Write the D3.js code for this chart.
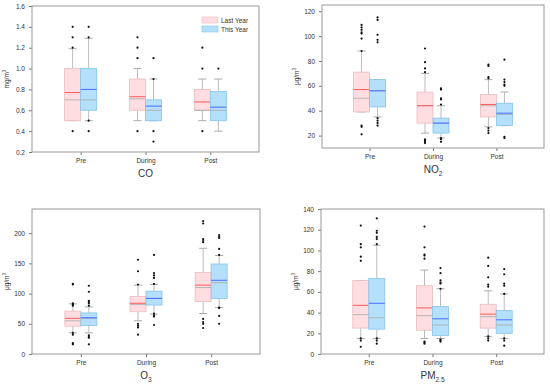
<!DOCTYPE html>
<html>
<head>
<meta charset="utf-8">
<script src="https://cdn.jsdelivr.net/npm/d3@7"></script>
<style>
body{margin:0;background:#fff;}
text{font-family:"Liberation Sans",Arial,sans-serif;fill:#333;}
</style>
</head>
<body>
<svg width="550" height="385"></svg>
<script>
var periods = ["Pre","During","Post"];
var seriesNames = ["Last Year","This Year"];

// [q1, q3, mean, median, whiskerLow, whiskerHigh, outliers]
var coLast = [
 [0.5,1.0,0.77,0.70,0.5,1.19,[1.4,1.3,1.2,0.4]],
 [0.6,0.9,0.73,0.71,0.5,1.0,[1.3,1.2,1.1,0.4]],
 [0.6,0.8,0.68,0.60,0.5,0.9,[1.2,1.0,0.4]]
];
var coThis = [
 [0.6,1.0,0.80,0.70,0.5,1.29,[1.4,1.3,0.5,0.4]],
 [0.5,0.7,0.64,0.60,0.5,0.9,[1.1,0.9,0.4,0.3]],
 [0.5,0.78,0.63,0.60,0.4,0.9,[1.0]]
];
var no2Last = [
 [39,71,57,50,39,88,[109,107,105,103,102,98,88,28,27,21]],
 [30,55,44,44,22,70,[90,79,74,71,17,16,15,14]],
 [35,53,45,44,27,65,[77,76,67,66,26,24,22]]
];
var no2This = [
 [43,65,56,56,35,65,[115,113,101,97,95,34,32,30,28]],
 [22,34,30,30,18,44,[58,57,50,49,45,18,17,15]],
 [28,46,38,37,28,55,[81,65,63,61,60,19,18]]
];
var o3Last = [
 [46,71,59,55,35,83,[116,115,84,82,80,35,32,18,16]],
 [70,95,84,82,55,114,[156,137,115,50,47,44,32]],
 [87,135,114,110,67,175,[220,216,190,187,185,58,53,50,43]]
];
var o3This = [
 [47,68,60,59,35,78,[113,103,88,86,84,80,31,28,27,16]],
 [81,104,92,92,66,115,[164,134,130,126,116,67,64,62,48]],
 [92,149,122,118,77,163,[197,194,192,174,164,77,76,63,50]]
];
var pmLast = [
 [25,71,47,38,15,71,[124,106,103,94,90,15,13,7]],
 [23,66,44.5,37,15,81,[123,103,96,95,92,12,11,10]],
 [25,48,38.5,36,17,61,[93,85,74,67,65,17,15,13]]
];
var pmThis = [
 [24,73,49,35,15,105,[131,119,117,113,111,106,15,13,10]],
 [18,46,34,28,15,63,[83,78,71,69,68,63,14,13,12]],
 [20,42,33,28,15,58,[82,77,68,66,58,15,13,8]]
];

var panels = [
 {title:["CO",""], unit:"mg/m", domain:[0.2,1.6], ticks:d3.range(0.2,1.61,0.2), fmt:d3.format(".1f"),
  last:coLast, cur:coThis, x:32, y:6, w:227, h:146, legend:true},
 {title:["NO","2"], unit:"μg/m", domain:[10,125], ticks:[20,40,60,80,100,120], fmt:d3.format("d"),
  last:no2Last, cur:no2This, x:322, y:5, w:222, h:143},
 {title:["O","3"], unit:"μg/m", domain:[0,240], ticks:[0,50,100,150,200], fmt:d3.format("d"),
  last:o3Last, cur:o3This, x:32, y:209, w:228, h:145},
 {title:["PM","2.5"], unit:"μg/m", domain:[0,140], ticks:d3.range(0,141,20), fmt:d3.format("d"),
  last:pmLast, cur:pmThis, x:321, y:209, w:223, h:145}
];

var colors = {
 fill:["#ffdde0","#b5e0fb"],
 stroke:["#e9bcc0","#86c4ea"],
 mean:["#ff5a5a","#4b6bff"]
};

var svg = d3.select("svg");

panels.forEach(function(p){
 var g = svg.append("g").attr("transform","translate("+p.x+","+p.y+")");
 var y = d3.scaleLinear().domain(p.domain).range([p.h,0]);
 var x = d3.scalePoint().domain(periods).range([0,p.w]).padding(0.75);
 var bw = 16;

 // left axis
 var ya = g.append("g").call(d3.axisLeft(y).tickValues(p.ticks).tickFormat(p.fmt).tickSize(3));
 ya.select(".domain").remove();
 ya.selectAll("line").attr("stroke","#777");
 ya.selectAll("text").attr("font-size",6.5).attr("fill","#444").attr("dx",-1);

 var xa = g.append("g").attr("transform","translate(0,"+p.h+")")
  .call(d3.axisBottom(x).tickSize(3));
 xa.select(".domain").remove();
 xa.selectAll("line").attr("stroke","#777");
 xa.selectAll("text").attr("font-size",6.5).attr("fill","#333").attr("dy",5);

 // frame
 g.append("rect").attr("width",p.w).attr("height",p.h)
  .attr("fill","none").attr("stroke","#999").attr("stroke-width",1);

 [p.last,p.cur].forEach(function(series,si){
  series.forEach(function(d,i){
   var cx = x(periods[i]) + (si===0 ? -bw/2 : bw/2);
   var b = g.append("g");
   // whiskers
   b.append("line").attr("x1",cx).attr("x2",cx).attr("y1",y(d[1])).attr("y2",y(d[5])).attr("stroke","#bbb");
   b.append("line").attr("x1",cx).attr("x2",cx).attr("y1",y(d[0])).attr("y2",y(d[4])).attr("stroke","#bbb");
   b.append("line").attr("x1",cx-4).attr("x2",cx+4).attr("y1",y(d[5])).attr("y2",y(d[5])).attr("stroke","#aaa");
   b.append("line").attr("x1",cx-4).attr("x2",cx+4).attr("y1",y(d[4])).attr("y2",y(d[4])).attr("stroke","#aaa");
   // box
   b.append("rect").attr("x",cx-bw/2).attr("width",bw)
    .attr("y",y(d[1])).attr("height",y(d[0])-y(d[1]))
    .attr("fill",colors.fill[si]).attr("stroke",colors.stroke[si]).attr("stroke-width",0.8);
   b.append("line").attr("x1",cx-bw/2).attr("x2",cx+bw/2).attr("y1",y(d[3])).attr("y2",y(d[3]))
    .attr("stroke","#a9a9a9").attr("stroke-width",0.8);
   b.append("line").attr("x1",cx-bw/2).attr("x2",cx+bw/2).attr("y1",y(d[2])).attr("y2",y(d[2]))
    .attr("stroke",colors.mean[si]).attr("stroke-width",1);
   b.selectAll("circle").data(d[6]).enter().append("circle")
    .attr("cx",cx).attr("cy",function(v){return y(v);}).attr("r",1.1).attr("fill","#111");
  });
 });

 // y label
 var yl = svg.append("text").attr("font-size",6.5).attr("fill","#333")
  .attr("transform","translate("+(p.x-23)+","+(p.y+p.h/2)+") rotate(-90)")
  .attr("text-anchor","middle");
 yl.append("tspan").text(p.unit);
 yl.append("tspan").text("3").attr("font-size",4.5).attr("dy",-3);

 // title
 var t = svg.append("text").attr("font-size",10).attr("text-anchor","middle")
  .attr("x",p.x+p.w/2).attr("y",p.y+p.h+25).attr("fill","#222");
 t.append("tspan").text(p.title[0]);
 if(p.title[1]) t.append("tspan").text(p.title[1]).attr("font-size",6.5).attr("dy",2.5);

 if(p.legend){
  var lg = g.selectAll(".lg").data(seriesNames).enter().append("g")
   .attr("transform",function(d,i){return "translate(170,"+(11+i*9)+")";});
  lg.append("rect").attr("width",16).attr("height",6)
   .attr("fill",function(d,i){return colors.fill[i];})
   .attr("stroke",function(d,i){return colors.stroke[i];}).attr("stroke-width",0.6);
  lg.append("text").attr("x",19).attr("y",5.5).attr("font-size",6.5).attr("fill","#333").text(function(d){return d;});
 }
});
</script>
</body>
</html>
